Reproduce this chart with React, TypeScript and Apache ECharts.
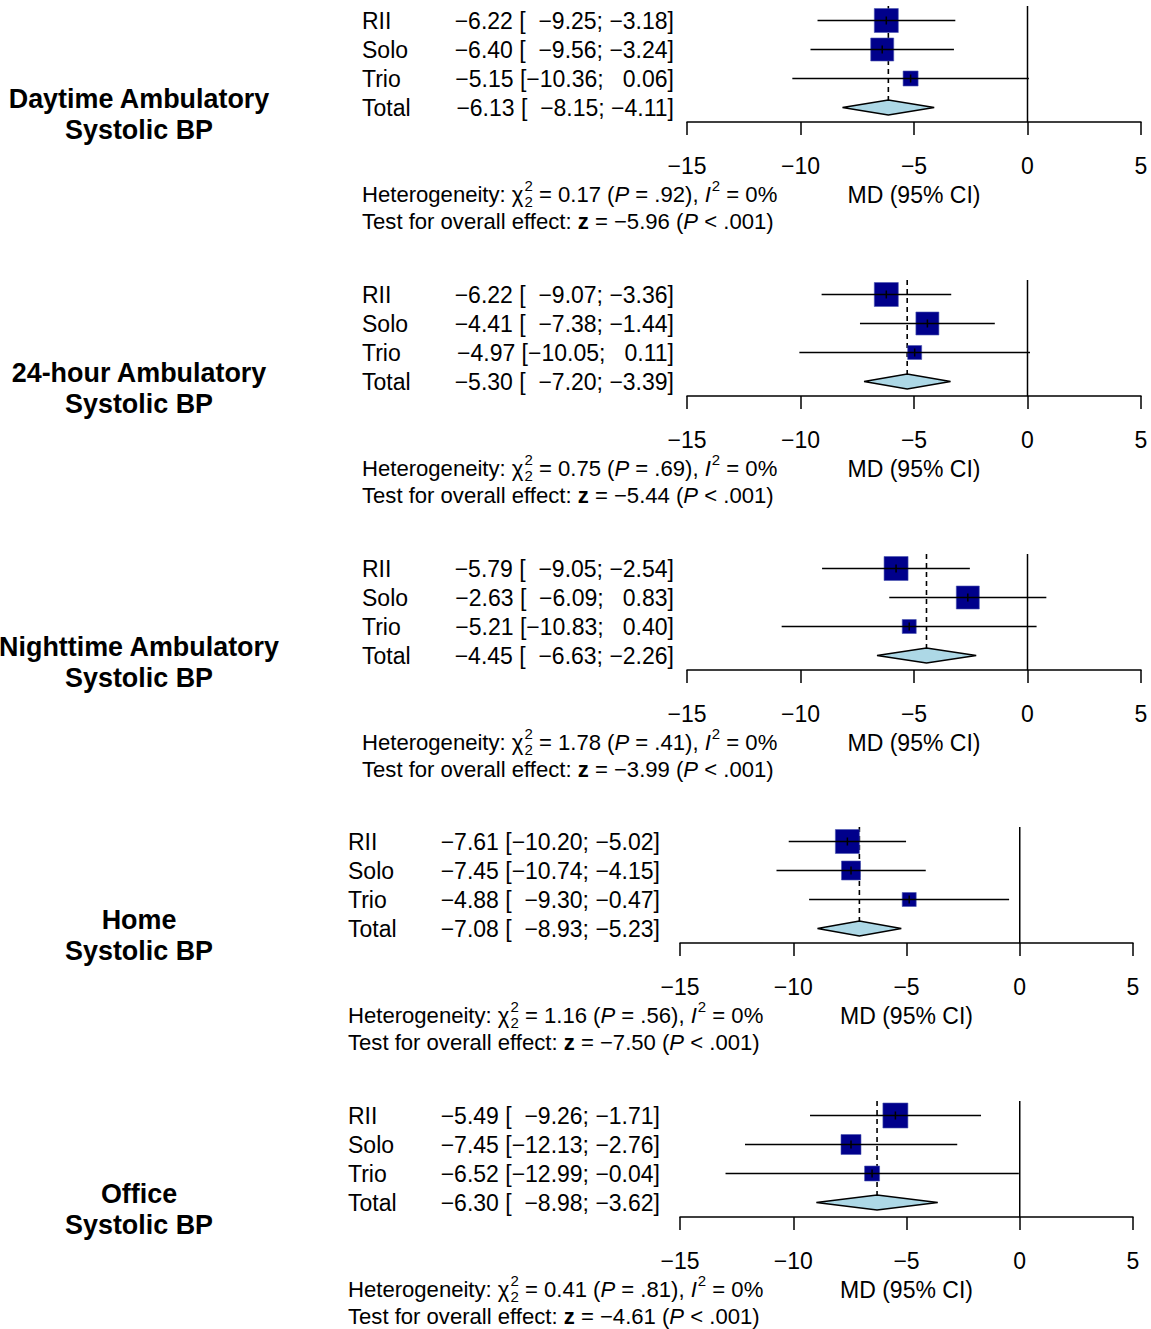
import React, { useEffect, useRef } from 'react';
import * as echarts from 'echarts';

// ---------- data ----------
const panelTitles: string[][] = [
  ['Daytime Ambulatory', 'Systolic BP'],
  ['24-hour Ambulatory', 'Systolic BP'],
  ['Nighttime Ambulatory', 'Systolic BP'],
  ['Home', 'Systolic BP'],
  ['Office', 'Systolic BP'],
];
const studyLabels = ['RII', 'Solo', 'Trio', 'Total'];
const estimates = [
  [-6.22, -6.40, -5.15, -6.13],
  [-6.22, -4.41, -4.97, -5.30],
  [-5.79, -2.63, -5.21, -4.45],
  [-7.61, -7.45, -4.88, -7.08],
  [-5.49, -7.45, -6.52, -6.30],
];
const lowerCI = [
  [-9.25, -9.56, -10.36, -8.15],
  [-9.07, -7.38, -10.05, -7.20],
  [-9.05, -6.09, -10.83, -6.63],
  [-10.20, -10.74, -9.30, -8.93],
  [-9.26, -12.13, -12.99, -8.98],
];
const upperCI = [
  [-3.18, -3.24, 0.06, -4.11],
  [-3.36, -1.44, 0.11, -3.39],
  [-2.54, 0.83, 0.40, -2.26],
  [-5.02, -4.15, -0.47, -5.23],
  [-1.71, -2.76, -0.04, -3.62],
];
// square side lengths (study weights)
const squareSizes = [
  [24, 23, 15],
  [24, 23, 14],
  [24, 23, 14],
  [24, 19, 14],
  [25, 20, 15],
];
const chiSq = ['0.17', '0.75', '1.78', '1.16', '0.41'];
const hetP = ['.92', '.69', '.41', '.56', '.81'];
const iSq = ['0%', '0%', '0%', '0%', '0%'];
const zStat = [-5.96, -5.44, -3.99, -7.50, -4.61];
const overallP = ['< .001', '< .001', '< .001', '< .001', '< .001'];
const xTicks = [-15, -10, -5, 0, 5];
const xLabel = 'MD (95% CI)';

// ---------- layout ----------
const FONT = '"Liberation Sans", Arial, Helvetica, sans-serif';
const row1Y = [20.5, 294.5, 568.5, 841.5, 1115.5];
const ROW_H = 29;
const axisLeft = [687, 687, 687, 680, 680];
const axisWidth = [454, 454, 454, 453, 453];
const textShift = [0, 0, 0, -14, -14];
const TABLE_SIZE = 23;
const HET_SIZE = 22.1;
const TITLE_SIZE = 26.9;
const SQ_COLOR = '#00008B';
const DIAMOND_COLOR = '#ADD8E6';

const MINUS = '\u2212';
const FIG = '\u2007';
const fmt = (v: number) => (v < 0 ? MINUS : '') + Math.abs(v).toFixed(2);
const pad = (s: string, n: number) => {
  let out = s;
  while (out.length < n) out = FIG + out;
  return out;
};
const ciText = (e: number, lo: number, hi: number) =>
  fmt(e) + ' [' + pad(fmt(lo), 6) + '; ' + pad(fmt(hi), 5) + ']';

let measureCtx: CanvasRenderingContext2D | null = null;
function measure(text: string, size: number, style = 'normal', weight = 'normal') {
  if (!measureCtx) measureCtx = document.createElement('canvas').getContext('2d');
  measureCtx!.font = `${style} ${weight} ${size}px ${FONT}`;
  return measureCtx!.measureText(text).width;
}

type Seg = { t: string; size?: number; style?: string; weight?: string; dy?: number; noAdv?: boolean; gap?: number };
function richLine(segs: Seg[], x0: number, y: number): any[] {
  const out: any[] = [];
  let x = x0;
  segs.forEach((s) => {
    const size = s.size || HET_SIZE;
    out.push({
      type: 'text',
      x,
      y: y + (s.dy || 0),
      silent: true,
      style: {
        text: s.t,
        fill: '#000',
        fontSize: size,
        fontFamily: FONT,
        fontStyle: s.style || 'normal',
        fontWeight: s.weight || 'normal',
        align: 'left',
        textAlign: 'left',
        verticalAlign: 'middle',
        textVerticalAlign: 'middle',
      },
    });
    if (!s.noAdv) x += measure(s.t, size, s.style || 'normal', s.weight || 'normal') + (s.gap || 0);
  });
  return out;
}

function txt(text: string, x: number, y: number, align: string, size = TABLE_SIZE, weight = 'normal') {
  return {
    type: 'text',
    style: {
      text,
      x,
      y,
      fill: '#000',
      fontSize: size,
      fontFamily: FONT,
      fontWeight: weight,
      align,
      textAlign: align,
      verticalAlign: 'middle',
      textVerticalAlign: 'middle',
    },
  };
}

function txtG(text: string, x: number, y: number) {
  return {
    type: 'text',
    x,
    y,
    silent: true,
    style: {
      text,
      fill: '#000',
      fontSize: TITLE_SIZE,
      fontWeight: 'bold',
      fontFamily: FONT,
      align: 'center',
      textAlign: 'center',
      verticalAlign: 'middle',
      textVerticalAlign: 'middle',
    },
  };
}

function buildOption() {
  const grid: any[] = [];
  const xAxis: any[] = [];
  const yAxis: any[] = [];
  const series: any[] = [];
  const graphic: any[] = [];

  panelTitles.forEach((title, p) => {
    grid.push({ left: axisLeft[p], top: row1Y[p] - ROW_H / 2, width: axisWidth[p], height: ROW_H * 4 });
    xAxis.push({
      gridIndex: p,
      type: 'value',
      min: xTicks[0],
      max: xTicks[xTicks.length - 1],
      interval: 5,
      splitLine: { show: false },
      axisLine: { show: true, onZero: false, lineStyle: { color: '#000', width: 1.5 } },
      axisTick: { show: true, length: 13, lineStyle: { color: '#000', width: 1.5 } },
      axisLabel: {
        color: '#000',
        fontSize: TABLE_SIZE,
        fontFamily: FONT,
        margin: 32,
        showMinLabel: true,
        showMaxLabel: true,
        formatter: (v: number) => (v < 0 ? MINUS + Math.abs(v) : String(v)),
      },
    });
    yAxis.push({ gridIndex: p, type: 'value', min: 0.5, max: 4.5, inverse: true, show: false });

    const sh = textShift[p];
    const data = studyLabels.map((_, i) => [estimates[p][i], lowerCI[p][i], upperCI[p][i], i + 1]);
    const totalEst = estimates[p][3];

    // reference lines (zero line + dashed pooled-estimate line)
    series.push({
      type: 'custom',
      xAxisIndex: p,
      yAxisIndex: p,
      silent: true,
      data: [[totalEst]],
      renderItem: (params: any, api: any) => {
        const t = api.value(0);
        const z0 = api.coord([0, 0.5]);
        const z1 = api.coord([0, 4.5]);
        const d0 = api.coord([t, 0.5]);
        const d1 = api.coord([t, 4]);
        return {
          type: 'group',
          children: [
            { type: 'line', shape: { x1: z0[0], y1: z0[1], x2: z1[0], y2: z1[1] }, style: { stroke: '#000', lineWidth: 1.5 } },
            {
              type: 'line',
              shape: { x1: d0[0], y1: d0[1], x2: d1[0], y2: d1[1] - 7.5 },
              style: { stroke: '#000', lineWidth: 1.6, lineDash: [5, 4] },
            },
          ],
        };
      },
    });

    // studies, pooled diamond and table text
    series.push({
      type: 'custom',
      xAxisIndex: p,
      yAxisIndex: p,
      silent: true,
      data,
      renderItem: (params: any, api: any) => {
        const i = params.dataIndex;
        const est = api.value(0);
        const lo = api.value(1);
        const hi = api.value(2);
        const row = api.value(3);
        const c = api.coord([est, row]);
        const cl = api.coord([lo, row]);
        const ch = api.coord([hi, row]);
        const children: any[] = [];
        if (i < 3) {
          const s = squareSizes[p][i];
          children.push({
            type: 'rect',
            shape: { x: c[0] - s / 2, y: c[1] - s / 2, width: s, height: s },
            style: { fill: SQ_COLOR, stroke: '#4a55b0', lineWidth: 0.6 },
          });
          children.push({
            type: 'line',
            shape: { x1: cl[0], y1: c[1], x2: ch[0], y2: c[1] },
            style: { stroke: '#000', lineWidth: 1.5 },
          });
          children.push({
            type: 'line',
            shape: { x1: c[0], y1: c[1] - 4, x2: c[0], y2: c[1] + 4 },
            style: { stroke: '#000', lineWidth: 1.5 },
          });
        } else {
          const hh = 7.5;
          children.push({
            type: 'polygon',
            shape: { points: [[cl[0], c[1]], [c[0], c[1] - hh], [ch[0], c[1]], [c[0], c[1] + hh]] },
            style: { fill: DIAMOND_COLOR, stroke: '#000', lineWidth: 1.5 },
          });
        }
        const y = c[1];
        children.push(txt(studyLabels[i], 362 + sh, y, 'left'));
        children.push(txt(ciText(est, lo, hi), 674 + sh, y, 'right'));
        return { type: 'group', children };
      },
    });

    // titles
    const cx = 139;
    const ty = row1Y[p];
    graphic.push(txtG(title[0], cx, ty + 78));
    graphic.push(txtG(title[1], cx, ty + 109));

    // x label
    const mdX = axisLeft[p] + (axisWidth[p] * 10) / 20;
    graphic.push({
      type: 'text',
      x: mdX,
      y: ty + 174,
      silent: true,
      style: {
        text: xLabel,
        fill: '#000',
        fontSize: TABLE_SIZE,
        fontFamily: FONT,
        align: 'center',
        textAlign: 'center',
        verticalAlign: 'middle',
        textVerticalAlign: 'middle',
      },
    });

    // heterogeneity and overall effect lines
    const hx = 362 + sh;
    graphic.push(
      ...richLine(
        [
          { t: 'Heterogeneity: ' },
          { t: '\u03C7', gap: 1 },
          { t: '2', size: 15, dy: -9, noAdv: true },
          { t: '2', size: 15, dy: 7 },
          { t: ' = ' + chiSq[p] + ' (' },
          { t: 'P', style: 'italic' },
          { t: ' = ' + hetP[p] + '), ' },
          { t: 'I', style: 'italic', gap: 1 },
          { t: '2', size: 15, dy: -9 },
          { t: ' = ' + iSq[p] },
        ],
        hx,
        ty + 174
      )
    );
    graphic.push(
      ...richLine(
        [
          { t: 'Test for overall effect: ' },
          { t: 'z', weight: 'bold' },
          { t: ' = ' + fmt(zStat[p]) + ' (' },
          { t: 'P', style: 'italic' },
          { t: ' ' + overallP[p] + ')' },
        ],
        hx,
        ty + 201
      )
    );
  });

  return { animation: false, grid, xAxis, yAxis, series, graphic };
}

export default function App() {
  const ref = useRef<HTMLDivElement>(null);
  useEffect(() => {
    document.body.style.margin = '0';
    const chart = echarts.init(ref.current!, undefined, { renderer: 'svg' });
    chart.setOption(buildOption() as any);
    return () => chart.dispose();
  }, []);
  return <div ref={ref} style={{ width: 1151, height: 1329, background: '#fff' }} />;
}
